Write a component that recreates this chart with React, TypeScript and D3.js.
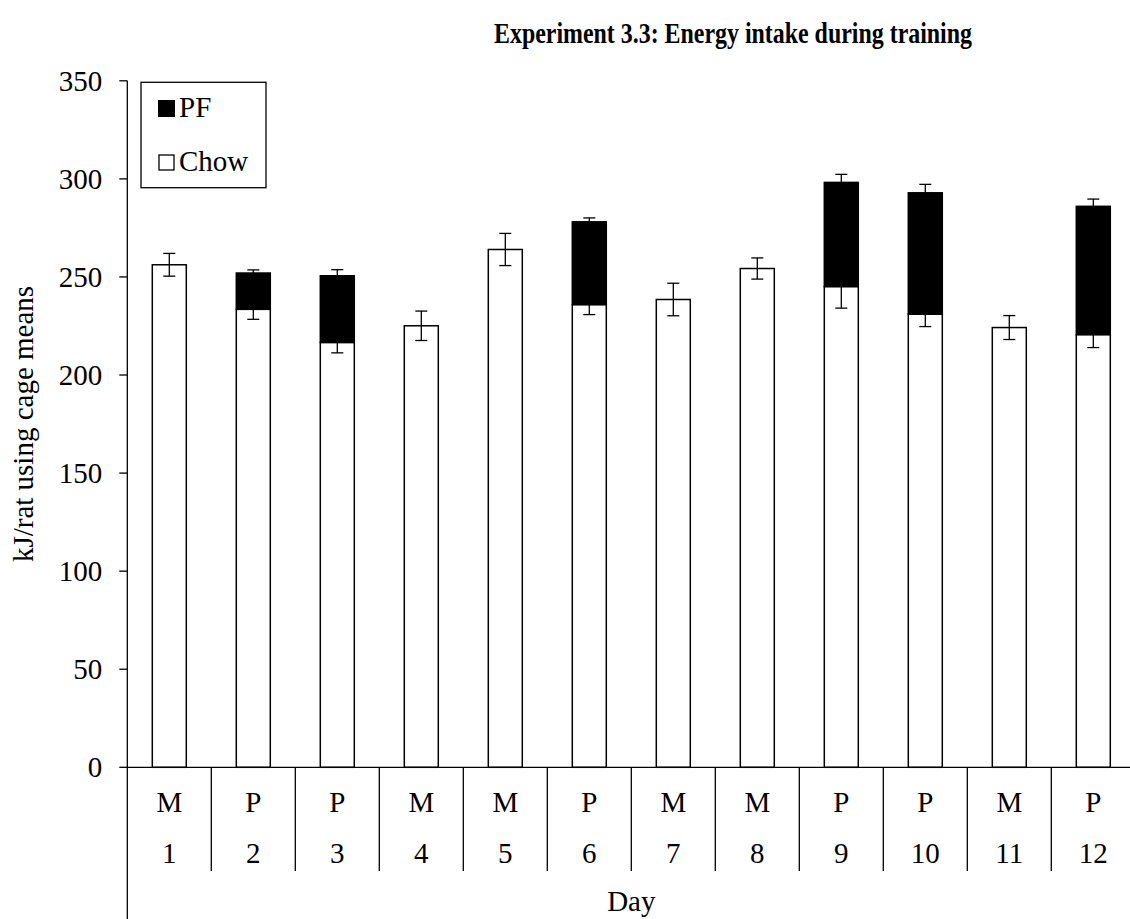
import React from "react";
import * as d3 from "d3";

const days = ["1", "2", "3", "4", "5", "6", "7", "8", "9", "10", "11", "12"];
const foodType = ["M", "P", "P", "M", "M", "P", "M", "M", "P", "P", "M", "P"];
const chow = [256.2, 233.5, 216.6, 225.1, 264.0, 235.9, 238.5, 254.3, 245.1, 231.0, 224.2, 220.6];
const chowErr = [5.8, 5.1, 5.3, 7.5, 8.2, 5.1, 8.3, 5.4, 11.0, 6.3, 6.1, 6.6];
const pf = [0, 18.5, 34.0, 0, 0, 42.2, 0, 0, 53.1, 61.9, 0, 65.4];
const pfErr = [0, 1.6, 3.1, 0, 0, 2.0, 0, 0, 4.1, 4.3, 0, 3.7];
const yTicks = [0, 50, 100, 150, 200, 250, 300, 350];

const W = 1130;
const H = 919;
const FONT = "'Liberation Serif', 'Times New Roman', serif";

export default function App() {
  const x0 = 127.3;
  const x1 = 127.3 + 84 * 12;
  const yTop = 80.8;
  const yBot = 767.3;
  const x = d3.scaleBand<string>().domain(days).range([x0, x1]).paddingInner(0).paddingOuter(0);
  const y = d3.scaleLinear().domain([0, 350]).range([yBot, yTop]);
  const bw = 34;
  const capW = 12;
  const fs = 29;

  return (
    <svg width={W} height={H} style={{ position: "absolute", left: 0, top: 0, background: "#fff" }} fontFamily={FONT}>
      <rect x={0} y={0} width={W} height={H} fill="#fff" />
      <text x={494} y={43} fontWeight="bold" fontSize={29} textLength={478} lengthAdjust="spacingAndGlyphs">
        Experiment 3.3: Energy intake during training
      </text>
      <text transform={`translate(33,424) rotate(-90)`} textAnchor="middle" fontSize={fs}>
        kJ/rat using cage means
      </text>
      {/* y ticks */}
      {yTicks.map((t) => (
        <g key={t}>
          <line x1={x0 - 8} x2={x0} y1={y(t)} y2={y(t)} stroke="#000" strokeWidth={1.3} />
          <text x={x0 - 25} y={y(t)} dy="0.35em" textAnchor="end" fontSize={fs}>
            {t}
          </text>
        </g>
      ))}
      {/* bars */}
      {days.map((d, i) => {
        const cx = (x(d) as number) + x.bandwidth() / 2;
        return (
          <g key={d}>
            <rect x={cx - bw / 2} y={y(chow[i])} width={bw} height={y(0) - y(chow[i])} fill="#fff" stroke="#000" strokeWidth={1.5} />
            <line x1={cx} x2={cx} y1={y(chow[i] - chowErr[i])} y2={y(chow[i] + chowErr[i])} stroke="#000" strokeWidth={1.3} />
            <line x1={cx - capW / 2} x2={cx + capW / 2} y1={y(chow[i] - chowErr[i])} y2={y(chow[i] - chowErr[i])} stroke="#000" strokeWidth={1.3} />
            <line x1={cx - capW / 2} x2={cx + capW / 2} y1={y(chow[i] + chowErr[i])} y2={y(chow[i] + chowErr[i])} stroke="#000" strokeWidth={1.3} />
          </g>
        );
      })}
      {days.map((d, i) => {
        if (!pf[i]) return null;
        const cx = (x(d) as number) + x.bandwidth() / 2;
        const top = chow[i] + pf[i];
        return (
          <g key={"pf" + d}>
            <rect x={cx - bw / 2} y={y(top)} width={bw} height={y(chow[i]) - y(top)} fill="#000" stroke="#000" strokeWidth={1.5} />
            <line x1={cx} x2={cx} y1={y(top)} y2={y(top + pfErr[i])} stroke="#000" strokeWidth={1.3} />
            <line x1={cx - capW / 2} x2={cx + capW / 2} y1={y(top + pfErr[i])} y2={y(top + pfErr[i])} stroke="#000" strokeWidth={1.3} />
          </g>
        );
      })}
      {/* axes */}
      <line x1={x0} x2={W} y1={yBot} y2={yBot} stroke="#000" strokeWidth={1.3} />
      <line x1={x0} x2={x0} y1={yTop} y2={H} stroke="#000" strokeWidth={1.3} />
      {days.map((d) => (
        <line key={"sep" + d} x1={(x(d) as number) + x.bandwidth()} x2={(x(d) as number) + x.bandwidth()} y1={yBot} y2={871} stroke="#000" strokeWidth={1.3} />
      ))}
      {days.map((d, i) => {
        const cx = (x(d) as number) + x.bandwidth() / 2;
        return (
          <g key={"lbl" + d}>
            <text x={cx} y={802} dy="0.35em" textAnchor="middle" fontSize={fs}>
              {foodType[i]}
            </text>
            <text x={cx} y={853} dy="0.35em" textAnchor="middle" fontSize={fs}>
              {d}
            </text>
          </g>
        );
      })}
      <text x={(x0 + x1) / 2} y={901} dy="0.35em" textAnchor="middle" fontSize={fs}>
        Day
      </text>
      {/* legend */}
      <rect x={141} y={82.3} width={125} height={105.4} fill="#fff" stroke="#000" strokeWidth={1.3} />
      <rect x={158.5} y={100.5} width={16} height={16} fill="#000" stroke="#000" />
      <text x={179} y={117} fontSize={fs}>PF</text>
      <rect x={159} y={155} width={15} height={15} fill="#fff" stroke="#000" strokeWidth={1.3} />
      <text x={179} y={170.5} fontSize={fs}>Chow</text>
    </svg>
  );
}
